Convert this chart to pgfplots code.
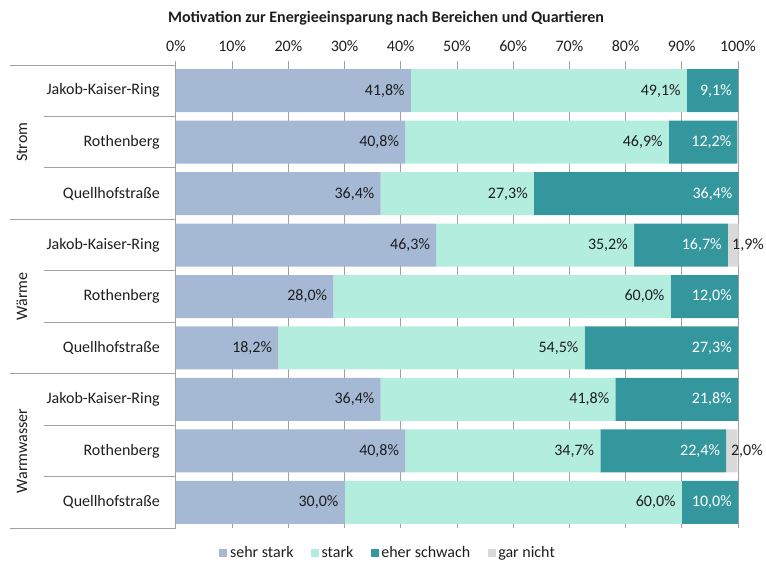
\documentclass[border=0pt]{standalone}
\usepackage{fontspec}
\setmainfont{Carlito}
\usepackage{pgfplots}
\pgfplotsset{compat=1.18}
\definecolor{c1}{RGB}{165,184,212}
\definecolor{c2}{RGB}{179,237,222}
\definecolor{c3}{RGB}{53,151,158}
\definecolor{c4}{RGB}{217,217,217}
\definecolor{gridc}{RGB}{160,160,160}
\definecolor{txt}{RGB}{30,30,30}
\begin{document}
\fontsize{12pt}{14pt}\selectfont
\begin{tikzpicture}
\path[use as bounding box] (-132pt,-27.75pt) rectangle (442.5pt,396pt);
\begin{axis}[
  at={(0,0)}, anchor=south west,
  scale only axis, width=421.5pt, height=347.25pt,
  xbar stacked, bar width=32.25pt,
  legend image code/.code={\fill[#1] (0pt,-3pt) rectangle (6pt,3pt);},
  xmin=0, xmax=100, ymin=0.5, ymax=9.5, y dir=reverse,
  clip=false,
  /pgf/number format/assume math mode=true,
  xtick={0,10,...,100},
  xticklabel={\pgfmathprintnumber{\tick}\%},
  xtick pos=upper, xticklabel pos=upper,
  tick align=outside, major tick length=3pt,
  x tick style={draw=gridc, line width=0.75pt},
  xmajorgrids, major grid style={draw=gridc, line width=0.75pt},
  ytick={1,...,9},
  yticklabels={Jakob-Kaiser-Ring,Rothenberg,Quellhofstraße,Jakob-Kaiser-Ring,Rothenberg,Quellhofstraße,Jakob-Kaiser-Ring,Rothenberg,Quellhofstraße},
  y tick style={draw=none},
  yticklabel style={inner sep=0pt, xshift=-9pt, text=txt},
  xticklabel style={inner sep=0pt, yshift=6.5pt, text=txt},
  axis line style={draw=none},
  point meta=explicit symbolic,
  visualization depends on={rawx \as \rawx},
  nodes near coords={\pgfplotspointmeta},
  nodes near coords style={anchor=east, inner sep=0pt, xshift={\rawx*2.1075pt-4.5pt}, text=txt},
  legend style={at={(0.378,-0.054)}, anchor=center, draw=none, fill=none,
    legend columns=4, inner sep=0pt, text=txt,
    /tikz/every even column/.append style={column sep=11pt}},
  legend cell align=left,
]
\addplot[fill=c1, draw=none] coordinates {
 (41.8,1) [{41,8\%}] (40.8,2) [{40,8\%}] (36.4,3) [{36,4\%}]
 (46.3,4) [{46,3\%}] (28.0,5) [{28,0\%}] (18.2,6) [{18,2\%}]
 (36.4,7) [{36,4\%}] (40.8,8) [{40,8\%}] (30.0,9) [{30,0\%}]};
\addplot[fill=c2, draw=none] coordinates {
 (49.1,1) [{49,1\%}] (46.9,2) [{46,9\%}] (27.3,3) [{27,3\%}]
 (35.2,4) [{35,2\%}] (60.0,5) [{60,0\%}] (54.5,6) [{54,5\%}]
 (41.8,7) [{41,8\%}] (34.7,8) [{34,7\%}] (60.0,9) [{60,0\%}]};
\addplot[fill=c3, draw=none, nodes near coords style={text=white}] coordinates {
 (9.1,1) [{9,1\%}] (12.2,2) [{12,2\%}] (36.4,3) [{36,4\%}]
 (16.7,4) [{16,7\%}] (12.0,5) [{12,0\%}] (27.3,6) [{27,3\%}]
 (21.8,7) [{21,8\%}] (22.4,8) [{22,4\%}] (10.0,9) [{10,0\%}]};
\addplot[fill=c4, draw=none, nodes near coords style={anchor=west, xshift=-0.5pt, text=txt}] coordinates {
 (0,1) [] (0,2) [] (0,3) []
 (1.9,4) [{1,9\%}] (0,5) [] (0,6) []
 (0,7) [] (2.0,8) [{2,0\%}] (0,9) []};
\legend{sehr stark,stark,eher schwach,gar nicht}
% separators
\draw[gridc, line width=0.75pt] (axis cs:0,0.5) -- ++(-124.5pt,0pt);
\draw[gridc, line width=0.75pt] (axis cs:0,3.5) -- ++(-124.5pt,0pt);
\draw[gridc, line width=0.75pt] (axis cs:0,6.5) -- ++(-124.5pt,0pt);
\draw[gridc, line width=0.75pt] (axis cs:0,9.5) -- ++(-124.5pt,0pt);
\draw[gridc, line width=0.75pt] (axis cs:0,1.5) -- ++(-99pt,0pt);
\draw[gridc, line width=0.75pt] (axis cs:0,2.5) -- ++(-99pt,0pt);
\draw[gridc, line width=0.75pt] (axis cs:0,4.5) -- ++(-99pt,0pt);
\draw[gridc, line width=0.75pt] (axis cs:0,5.5) -- ++(-99pt,0pt);
\draw[gridc, line width=0.75pt] (axis cs:0,7.5) -- ++(-99pt,0pt);
\draw[gridc, line width=0.75pt] (axis cs:0,8.5) -- ++(-99pt,0pt);
\node[rotate=90, text=txt] at ([xshift=-115.5pt]axis cs:0,2) {Strom};
\node[rotate=90, text=txt] at ([xshift=-115.5pt]axis cs:0,5) {Wärme};
\node[rotate=90, text=txt] at ([xshift=-115.5pt]axis cs:0,8) {Warmwasser};
\end{axis}
\node[font=\bfseries, text=txt] at (157.5pt,382.5pt) {Motivation zur Energieeinsparung nach Bereichen und Quartieren};
\end{tikzpicture}
\end{document}
